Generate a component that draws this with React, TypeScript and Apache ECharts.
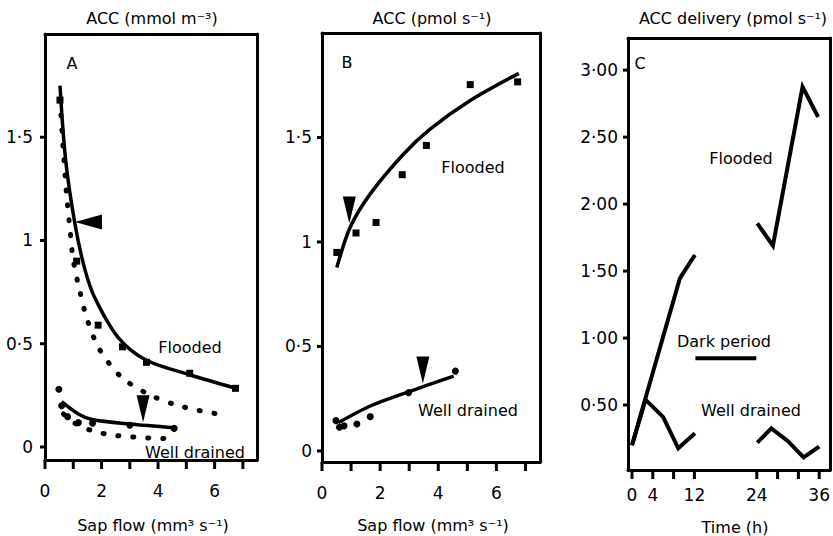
import React, { useEffect, useRef } from "react";
import * as echarts from "echarts";

// ---------- Panel A: ACC concentration vs sap flow ----------
const aFloodedObs = [[0.53, 1.68], [1.12, 0.9], [1.88, 0.59], [2.74, 0.485], [3.59, 0.41], [5.12, 0.357], [6.74, 0.284]];
const aFloodedFit = [[0.53, 1.75], [0.73, 1.39], [1.06, 1.08], [1.41, 0.86], [1.77, 0.72], [2.59, 0.53], [3.59, 0.42], [5.12, 0.35], [6.74, 0.285]];
const aFloodedModel = [[0.53, 1.68], [0.65, 1.43], [0.77, 1.21], [0.88, 1.06], [1.0, 0.905], [1.24, 0.75], [1.51, 0.61], [1.94, 0.47], [2.69, 0.34], [3.65, 0.256], [4.65, 0.203], [5.77, 0.168], [6.36, 0.155]];
const aDrainedObs = [[0.49, 0.28], [0.59, 0.2], [0.8, 0.147], [1.18, 0.118], [1.68, 0.115], [3.0, 0.105], [4.57, 0.09]];
const aDrainedFit = [[0.59, 0.22], [1.18, 0.16], [1.66, 0.133], [3.0, 0.111], [4.59, 0.093]];
const aDrainedModel = [[0.65, 0.16], [0.9, 0.13], [1.18, 0.105], [1.77, 0.074], [2.36, 0.058], [2.94, 0.05], [3.47, 0.045], [4.0, 0.042], [4.5, 0.04]];
const aArrowFlooded = [[1.06, 1.09]];
const aArrowDrained = [[3.47, 0.12]];

// ---------- Panel B: ACC flux vs sap flow ----------
const bFloodedObs = [[0.51, 0.95], [1.17, 1.043], [1.86, 1.093], [2.76, 1.322], [3.59, 1.462], [5.1, 1.753], [6.73, 1.766]];
const bFloodedFit = [[0.51, 0.878], [0.97, 1.07], [1.66, 1.23], [2.8, 1.42], [3.72, 1.54], [5.1, 1.677], [6.77, 1.807]];
const bDrainedObs = [[0.48, 0.145], [0.6, 0.113], [0.76, 0.12], [1.2, 0.129], [1.66, 0.164], [2.98, 0.279], [4.59, 0.382]];
const bDrainedFit = [[0.56, 0.135], [1.66, 0.215], [2.98, 0.283], [4.53, 0.358]];
const bArrowFlooded = [[0.94, 1.088]];
const bArrowDrained = [[3.47, 0.323]];

// ---------- Panel C: ACC delivery vs time ----------
const cFloodedDay1 = [[0, 0.2], [9.2, 1.445], [12.1, 1.62]];
const cFloodedDay2 = [[24.1, 1.856], [27.1, 1.69], [32.8, 2.875], [35.8, 2.65]];
const cDrainedDay1 = [[0, 0.2], [2.6, 0.54], [6.0, 0.41], [8.9, 0.177], [12.1, 0.29]];
const cDrainedDay2 = [[24.1, 0.22], [26.8, 0.326], [30, 0.23], [33, 0.11], [36, 0.19]];
const darkPeriod = [[12.2, 0.85], [23.9, 0.85]];

// ---------- ticks ----------
const sapTicks = [0, 1, 2, 3, 4, 5, 6, 7];
const sapLabels = [0, 2, 4, 6];
const abYTicks = [0, 0.5, 1, 1.5];
const cXTicks = [0, 4, 8, 12, 24, 28, 32, 36];
const cXLabels = [0, 4, 12, 24, 36];
const cYTicks = [0.5, 1, 1.5, 2, 2.5, 3];

// axis ranges (frame extents)
const aX = [0, 7.5], aY = [-0.063, 2.0];
const bX = [0, 7.5], bY = [-0.053, 2.0];
const cX = [-0.77, 38.1], cY = [0.015, 3.24];

const FONT = "DejaVu Sans";
const BLACK = "#000";

const dotFmt = (v: number) => String(v).replace(".", "\u00b7");
const dotFmt2 = (v: number) => v.toFixed(2).replace(".", "\u00b7");
const LINE = { color: BLACK, width: 3 };

function xAxes(gridIndex: number, r: number[], labels: number[], margin: number, fmt: (v: number) => string) {
  return [
    {
      type: "value", gridIndex, min: r[0], max: r[1], position: "bottom",
      splitLine: { show: false },
      axisLine: { show: true, onZero: false, lineStyle: LINE },
      axisTick: { show: false },
      axisLabel: { show: true, customValues: labels, margin, color: BLACK, fontFamily: FONT, fontSize: 17, formatter: fmt },
    },
    {
      type: "value", gridIndex, min: r[0], max: r[1], position: "top",
      splitLine: { show: false },
      axisLine: { show: true, onZero: false, lineStyle: LINE },
      axisTick: { show: false }, axisLabel: { show: false },
    },
  ];
}
function yAxes(gridIndex: number, r: number[], ticks: number[], margin: number, fmt: (v: number) => string) {
  return [
    {
      type: "value", gridIndex, min: r[0], max: r[1], position: "left",
      splitLine: { show: false },
      axisLine: { show: true, onZero: false, lineStyle: LINE },
      axisTick: { show: false },
      axisLabel: { show: true, customValues: ticks, margin, color: BLACK, fontFamily: FONT, fontSize: 17, formatter: fmt },
    },
    {
      type: "value", gridIndex, min: r[0], max: r[1], position: "right",
      splitLine: { show: false },
      axisLine: { show: true, onZero: false, lineStyle: LINE },
      axisTick: { show: false }, axisLabel: { show: false },
    },
  ];
}

// tick marks drawn through the axes' scales with a custom series
const xTickMarks = (i: number, ticks: number[], yMin: number) => ({
  type: "custom", xAxisIndex: 2 * i, yAxisIndex: 2 * i, clip: false, silent: true, z: 5,
  data: ticks.map((v) => [v, yMin]),
  renderItem: (_p: any, api: any) => {
    const c = api.coord([api.value(0), api.value(1)]);
    return { type: "rect", shape: { x: c[0] - 1.5, y: c[1], width: 3, height: 9 }, style: { fill: BLACK } };
  },
});
const yTickMarks = (i: number, ticks: number[], xMin: number) => ({
  type: "custom", xAxisIndex: 2 * i, yAxisIndex: 2 * i, clip: false, silent: true, z: 5,
  data: ticks.map((v) => [xMin, v]),
  renderItem: (_p: any, api: any) => {
    const c = api.coord([api.value(0), api.value(1)]);
    return { type: "rect", shape: { x: c[0] - 5, y: c[1] - 1.5, width: 5, height: 3 }, style: { fill: BLACK } };
  },
});

// panel i uses xAxisIndex 2*i and yAxisIndex 2*i
const fitLine = (i: number, data: number[][], width = 3.5) => ({
  type: "line", xAxisIndex: 2 * i, yAxisIndex: 2 * i, data, smooth: 0.3, showSymbol: false, silent: true,
  lineStyle: { color: BLACK, width },
});
const dotLine = (i: number, data: number[][]) => ({
  type: "line", xAxisIndex: 2 * i, yAxisIndex: 2 * i, data, smooth: 0.3, showSymbol: false, silent: true,
  lineStyle: { color: BLACK, width: 5, type: [1, 14], cap: "round" },
});
const pts = (i: number, data: number[][], symbol: string) => ({
  type: "scatter", xAxisIndex: 2 * i, yAxisIndex: 2 * i, data, symbol, symbolSize: 7, silent: true,
  itemStyle: { color: BLACK, opacity: 1 },
});
const arrowDown = (i: number, data: number[][]) => ({
  type: "scatter", xAxisIndex: 2 * i, yAxisIndex: 2 * i, data, silent: true,
  symbol: "path://M0,0L12,0L6,26Z", symbolSize: [13, 27], symbolOffset: [0, "-50%"],
  itemStyle: { color: BLACK, opacity: 1 },
});
const arrowLeft = (i: number, data: number[][]) => ({
  type: "scatter", xAxisIndex: 2 * i, yAxisIndex: 2 * i, data, silent: true,
  symbol: "path://M0,7L27,0L27,14Z", symbolSize: [27, 15], symbolOffset: ["50%", 0],
  itemStyle: { color: BLACK, opacity: 1 },
});
const polyLine = (i: number, data: number[][]) => ({
  type: "line", xAxisIndex: 2 * i, yAxisIndex: 2 * i, data, showSymbol: false, silent: true,
  lineStyle: { color: BLACK, width: 4, join: "miter" },
});

const txt = (x: number, y: number, text: string, size = 16) => ({
  type: "text", x, y,
  style: { text, fill: BLACK, font: `${size}px '${FONT}'`, textAlign: "center", textVerticalAlign: "middle" },
});

export default function App() {
  const ref = useRef<HTMLDivElement>(null);
  useEffect(() => {
    if (!ref.current) return;
    const chart = echarts.init(ref.current, null, { renderer: "svg" });
    chart.setOption({
      animation: false,
      grid: [
        { left: 45, top: 34, width: 212, height: 426, show: false },
        { left: 322, top: 33, width: 218, height: 429, show: false },
        { left: 628, top: 38, width: 203, height: 432, show: false },
      ],
      xAxis: [
        ...xAxes(0, aX, sapLabels, 22, dotFmt),
        ...xAxes(1, bX, sapLabels, 22, dotFmt),
        ...xAxes(2, cX, cXLabels, 16, (v: number) => String(v)),
      ],
      yAxis: [
        ...yAxes(0, aY, abYTicks, 12, dotFmt),
        ...yAxes(1, bY, abYTicks, 10, dotFmt),
        ...yAxes(2, cY, cYTicks, 10, dotFmt2),
      ],
      series: [
        xTickMarks(0, sapTicks, aY[0]),
        xTickMarks(1, sapTicks, bY[0]),
        xTickMarks(2, cXTicks, cY[0]),
        yTickMarks(0, abYTicks, aX[0]),
        yTickMarks(1, abYTicks, bX[0]),
        yTickMarks(2, cYTicks, cX[0]),
        // A
        dotLine(0, aFloodedModel),
        fitLine(0, aFloodedFit),
        pts(0, aFloodedObs, "rect"),
        dotLine(0, aDrainedModel),
        fitLine(0, aDrainedFit),
        pts(0, aDrainedObs, "circle"),
        arrowLeft(0, aArrowFlooded),
        arrowDown(0, aArrowDrained),
        // B
        fitLine(1, bFloodedFit),
        pts(1, bFloodedObs, "rect"),
        fitLine(1, bDrainedFit),
        pts(1, bDrainedObs, "circle"),
        arrowDown(1, bArrowFlooded),
        arrowDown(1, bArrowDrained),
        // C
        polyLine(2, cFloodedDay1),
        polyLine(2, cFloodedDay2),
        polyLine(2, cDrainedDay1),
        polyLine(2, cDrainedDay2),
        polyLine(2, darkPeriod),
      ],
      graphic: [
        txt(152, 18, "ACC (mmol m\u207b\u00b3)", 16),
        txt(432, 18, "ACC (pmol s\u207b\u00b9)", 16),
        txt(733, 18, "ACC delivery (pmol s\u207b\u00b9)", 16),
        txt(153, 525, "Sap flow (mm\u00b3 s\u207b\u00b9)", 16),
        txt(433, 525, "Sap flow (mm\u00b3 s\u207b\u00b9)", 16),
        txt(735, 527, "Time (h)", 16),
        txt(72, 63, "A"),
        txt(347, 62, "B"),
        txt(640, 63, "C"),
        txt(190, 347, "Flooded"),
        txt(195, 452, "Well drained"),
        txt(473, 167, "Flooded"),
        txt(468, 410, "Well drained"),
        txt(741, 158, "Flooded"),
        txt(724, 341, "Dark period"),
        txt(751, 410, "Well drained"),
      ],
    });
    return () => chart.dispose();
  }, []);
  return <div ref={ref} style={{ position: "fixed", left: 0, top: 0, width: 833, height: 536, background: "#fff" }} />;
}
